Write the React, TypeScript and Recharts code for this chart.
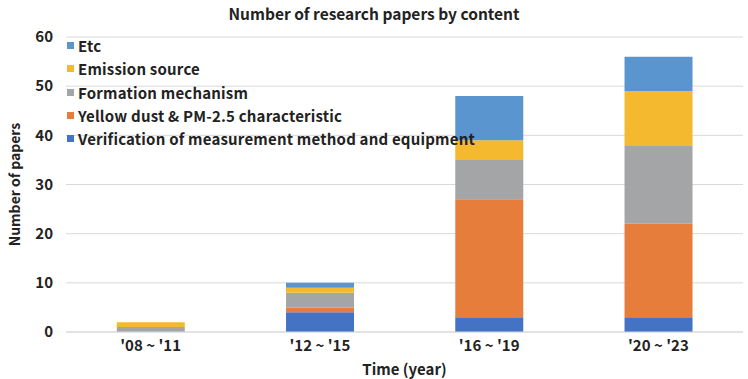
import React from 'react';
import { BarChart, Bar, XAxis, YAxis, CartesianGrid } from 'recharts';

const categories = ["'08 ~ '11", "'12 ~ '15", "'16 ~ '19", "'20 ~ '23"];
const verification = [0, 4, 3, 3];
const yellowDust = [0, 1, 24, 19];
const formation = [1, 3, 8, 16];
const emission = [1, 1, 4, 11];
const etc = [0, 1, 9, 7];
const yTicks = [0, 10, 20, 30, 40, 50, 60];

const series = [
  { key: 'verification', name: 'Verification of measurement method and equipment', color: '#4472C4', values: verification },
  { key: 'yellowDust', name: 'Yellow dust & PM-2.5 characteristic', color: '#E67D3A', values: yellowDust },
  { key: 'formation', name: 'Formation mechanism', color: '#A4A5A7', values: formation },
  { key: 'emission', name: 'Emission source', color: '#F4B92F', values: emission },
  { key: 'etc', name: 'Etc', color: '#5B95CF', values: etc },
];

const data = categories.map((c, i) => {
  const row: Record<string, any> = { category: c };
  series.forEach((s) => { row[s.key] = s.values[i]; });
  return row;
});

const FONT = '"Noto Sans CJK KR", "Noto Sans", sans-serif';
const textStyle = { fontFamily: FONT, fontSize: 15, fontWeight: 600, fill: '#222' };

export default function App() {
  return (
    <div style={{ position: 'absolute', left: 0, top: 0, width: 748, height: 379, background: '#fff' }}>
      <BarChart width={748} height={379} data={data} margin={{ top: 37, right: 5, bottom: 17, left: 36 }} barCategoryGap="30%">
        <CartesianGrid vertical={false} stroke="#D9D9D9" />
        <XAxis
          dataKey="category"
          height={30}
          tickLine={false}
          axisLine={{ stroke: '#D9D9D9' }}
          tick={textStyle}
          tickMargin={2}
          label={{ value: 'Time (year)', position: 'bottom', offset: 2, style: textStyle }}
        />
        <YAxis
          width={30}
          domain={[0, 60]}
          ticks={yTicks}
          tickLine={false}
          axisLine={false}
          tick={textStyle}
          tickMargin={7}
          label={{ value: 'Number of papers', angle: -90, position: 'left', offset: 21, style: { ...textStyle, fontSize: 14, textAnchor: 'middle' } }}
        />
        {series.map((s) => (
          <Bar key={s.key} dataKey={s.key} name={s.name} stackId="a" fill={s.color} isAnimationActive={false} />
        ))}
      </BarChart>
      <div style={{ position: 'absolute', left: 0, top: 2, width: 748, textAlign: 'center', fontFamily: FONT, fontSize: 15.5, fontWeight: 700, color: '#222' }}>
        Number of research papers by content
      </div>
      <div style={{ position: 'absolute', left: 67, top: 34, fontFamily: FONT, fontSize: 15, fontWeight: 600, letterSpacing: 0.2, color: '#222' }}>
        {[...series].reverse().map((s) => (
          <div key={s.key} style={{ display: 'flex', alignItems: 'center', height: 23.3 }}>
            <span style={{ width: 7, height: 7, background: s.color, display: 'inline-block', marginRight: 4 }} />
            <span>{s.name}</span>
          </div>
        ))}
      </div>
    </div>
  );
}
